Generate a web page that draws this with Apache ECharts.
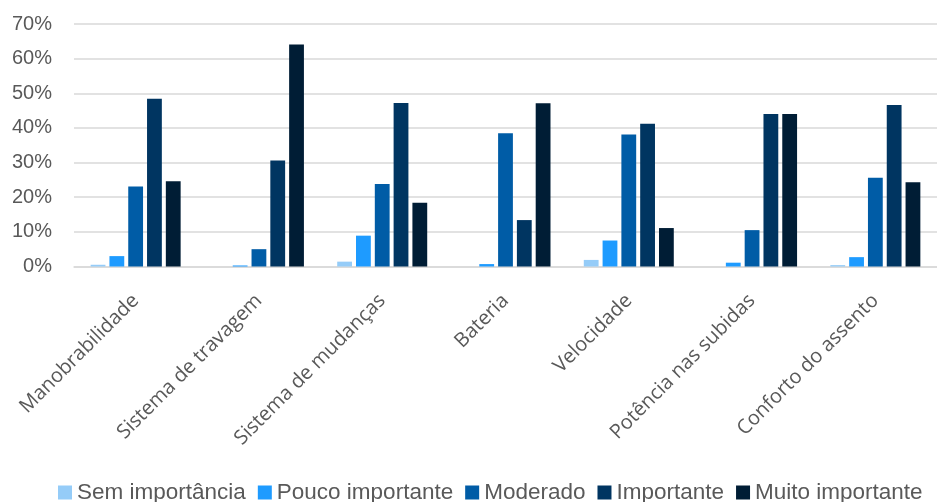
<!DOCTYPE html>
<html>
<head>
<meta charset="utf-8">
<script src="https://cdn.jsdelivr.net/npm/echarts@6/dist/echarts.min.js"></script>
<style>html,body{margin:0;padding:0;background:#fff;}#c{width:937px;height:502px;}</style>
</head>
<body>
<div id="c"></div>
<script>
const categories = ['Manobrabilidade', 'Sistema de travagem', 'Sistema de mudanças', 'Bateria', 'Velocidade', 'Potência nas subidas', 'Conforto do assento'];
const seriesNames = ['Sem importância', 'Pouco importante', 'Moderado', 'Importante', 'Muito importante'];
const semImportancia = [0.5, 0, 1.4, 0, 1.9, 0, 0.4];
const poucoImportante = [3.0, 0.3, 8.9, 0.7, 7.5, 1.1, 2.7];
const moderado = [23.1, 5.0, 23.8, 38.5, 38.1, 10.5, 25.6];
const importante = [48.4, 30.6, 47.2, 13.4, 41.2, 44.0, 46.6];
const muitoImportante = [24.6, 64.1, 18.4, 47.1, 11.1, 44.0, 24.3];
const yTicks = [0, 10, 20, 30, 40, 50, 60, 70];

const values = [semImportancia, poucoImportante, moderado, importante, muitoImportante];
const colors = ['#95CCF8', '#1E9BFF', '#005CA6', '#003561', '#001D35'];
const textFont = "'Liberation Sans', sans-serif";

const chart = echarts.init(document.getElementById('c'), null, {renderer: 'canvas'});
chart.setOption({
  animation: false,
  color: colors,
  grid: {left: 74, top: 24, width: 873, height: 242.5, containLabel: false},
  legend: {
    top: 476, left: 53,
    itemWidth: 14, itemHeight: 14, itemGap: 12,
    icon: 'rect',
    textStyle: {color: '#595959', fontSize: 22.5, fontFamily: textFont, padding: [0, 0, 0, 0]},
    data: seriesNames
  },
  xAxis: {
    type: 'category', data: categories,
    axisLine: {show: true, lineStyle: {color: '#D9D9D9', width: 1.5}},
    axisTick: {show: false},
    axisLabel: {rotate: 45, interval: 0, margin: 31, color: '#595959', fontSize: 20, fontFamily: "'Open Sans', sans-serif"}
  },
  yAxis: {
    type: 'value', min: 0, max: 70, interval: 10,
    axisLine: {show: false}, axisTick: {show: false},
    splitLine: {lineStyle: {color: '#D9D9D9', width: 1.5}},
    axisLabel: {margin: 22, color: '#595959', fontSize: 20, fontFamily: textFont, formatter: v => yTicks.includes(v) ? v + '%' : ''}
  },
  series: values.map((vals, i) => ({
    name: seriesNames[i], type: 'bar', data: vals,
    barGap: '27%', barCategoryGap: '27%',
    itemStyle: {color: colors[i]}
  }))
});
</script>
</body>
</html>
